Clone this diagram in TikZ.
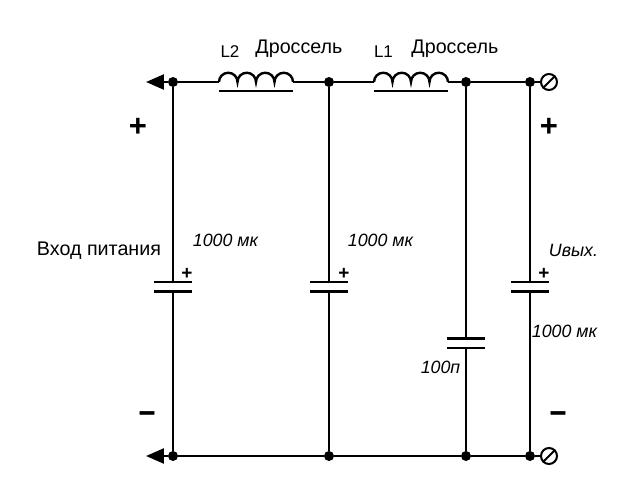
\documentclass[tikz,border=0pt]{standalone}
\usepackage{fontspec}
\setmainfont{Liberation Sans}
\usetikzlibrary{positioning}
\usetikzlibrary{arrows.meta}

\tikzset{
    on grid,
    wire/.style = {line width=2.4pt},
    junction/.style = {circle, fill=black, inner sep=0pt, minimum size=10pt},
    plate/.style = {rectangle, fill=black, inner sep=0pt, minimum width=38pt, minimum height=2.4pt},
    choke/.style = {rectangle, fill=black, inner sep=0pt, minimum width=74pt, minimum height=2.4pt},
    terminal/.style = {circle, draw, line width=2pt, inner sep=0pt, minimum size=16pt},
    inlet/.style = {wire, -{Triangle[length=18pt,width=15pt]}},
    textlabel/.style = {inner sep=0pt, font=\fontsize{19.7}{22}\selectfont},
    reflabel/.style = {inner sep=0pt, font=\fontsize{17}{18}\selectfont},
    valuelabel/.style = {inner sep=0pt, font=\fontsize{17.8}{20}\selectfont\itshape},
    bigsign/.style = {inner sep=0pt, font=\fontsize{31}{32}\selectfont\bfseries},
    heavysign/.style = {inner sep=0pt, font=\fontsize{29}{32}\selectfont\bfseries\addfontfeature{FakeBold=2}},
    smallsign/.style = {inner sep=0pt, font=\fontsize{19}{20}\selectfont\bfseries},
}

\begin{document}
\begin{tikzpicture}
    \useasboundingbox (-173pt,-419pt) rectangle (465pt,82pt);

    %Junctions
    \node[junction] (TopA) at (0,0) {};
    \node[junction, right = 156pt of TopA] (TopB) {};
    \node[junction, right = 137pt of TopB] (TopC) {};
    \node[junction, right = 64pt of TopC] (TopD) {};

    \node[junction, below = 374pt of TopA] (BotA) {};
    \node[junction, below = 374pt of TopB] (BotB) {};
    \node[junction, below = 374pt of TopC] (BotC) {};
    \node[junction, below = 374pt of TopD] (BotD) {};

    %Terminals
    \coordinate[left = 27pt of TopA] (InTop);
    \coordinate[left = 27pt of BotA] (InBot);
    \node[terminal, right = 19pt of TopD] (OutTop) {};
    \node[terminal, right = 19pt of BotD] (OutBot) {};

    %Chokes
    \coordinate[right = 46pt of TopA] (L2In);
    \coordinate[right = 120pt of TopA] (L2Out);
    \coordinate[right = 45pt of TopB] (L1In);
    \coordinate[right = 119pt of TopB] (L1Out);
    \node[choke, above right = -9pt and 83pt of TopA] (L2Bar) {};
    \node[choke, above right = -9pt and 82pt of TopB] (L1Bar) {};

    %Capacitors
    \node[plate, below = 200pt of TopA] (C1Top) {};
    \node[plate, below = 9.5pt of C1Top] (C1Bot) {};
    \node[plate, below = 200pt of TopB] (C2Top) {};
    \node[plate, below = 9.5pt of C2Top] (C2Bot) {};
    \node[plate, below = 256.5pt of TopC] (C3Top) {};
    \node[plate, below = 9.5pt of C3Top] (C3Bot) {};
    \node[plate, below = 200pt of TopD] (C4Top) {};
    \node[plate, below = 9.5pt of C4Top] (C4Bot) {};

    %Wires
    \draw[wire] (TopA) -- (L2In);
    \draw[wire] (L2In) \foreach \bump in {1,...,4} { arc (180:0:9.25pt) };
    \draw[wire] (L2Out) -- (TopB) -- (L1In);
    \draw[wire] (L1In) \foreach \bump in {1,...,4} { arc (180:0:9.25pt) };
    \draw[wire] (L1Out) -- (TopC) -- (TopD) -- (OutTop);
    \draw[wire] (BotA) -- (BotB) -- (BotC) -- (BotD) -- (OutBot);
    \draw[inlet] (TopA) -- (InTop);
    \draw[inlet] (BotA) -- (InBot);

    \draw[wire] (TopA) -- (C1Top);
    \draw[wire] (C1Bot) -- (BotA);
    \draw[wire] (TopB) -- (C2Top);
    \draw[wire] (C2Bot) -- (BotB);
    \draw[wire] (TopC) -- (C3Top);
    \draw[wire] (C3Bot) -- (BotC);
    \draw[wire] (TopD) -- (C4Top);
    \draw[wire] (C4Bot) -- (BotD);

    \draw[line width=2pt] (OutTop.south west) -- (OutTop.north east);
    \draw[line width=2pt] (OutBot.south west) -- (OutBot.north east);

    %Labels
    \node[reflabel, above right = 30pt and 57pt of TopA] (L2Label) {L2};
    \node[textlabel, above right = 33pt and 126pt of TopA] (L2Name) {Дроссель};
    \node[reflabel, above right = 30pt and 54.5pt of TopB] (L1Label) {L1};
    \node[textlabel, above right = 33pt and 126pt of TopB] (L1Name) {Дроссель};

    \node[textlabel, above right = -169pt and -74pt of TopA] (InputLabel) {Вход питания};
    \node[valuelabel, above right = -158pt and 52.5pt of TopA] (C1Label) {1000 мк};
    \node[valuelabel, above right = -158pt and 51.5pt of TopB] (C2Label) {1000 мк};
    \node[valuelabel, above right = -285pt and -25.5pt of TopC] (C3Label) {100п};
    \node[valuelabel, above right = -249pt and 34.5pt of TopD] (C4Label) {1000 мк};
    \node[valuelabel, above right = -168pt and 43.5pt of TopD] (OutLabel) {Uвых.};

    %Signs
    \node[bigsign, above right = -45pt and -35pt of TopA] (PlusIn) {+};
    \node[heavysign, above right = -334pt and -26pt of TopA] (MinusIn) {–};
    \node[bigsign, above right = -45pt and 19pt of TopD] (PlusOut) {+};
    \node[heavysign, above right = -334pt and 28pt of TopD] (MinusOut) {–};

    \node[smallsign, above right = 8pt and 14pt of C1Top] (PlusC1) {+};
    \node[smallsign, above right = 8pt and 15pt of C2Top] (PlusC2) {+};
    \node[smallsign, above right = 8pt and 14pt of C4Top] (PlusC4) {+};

\end{tikzpicture}
\end{document}
